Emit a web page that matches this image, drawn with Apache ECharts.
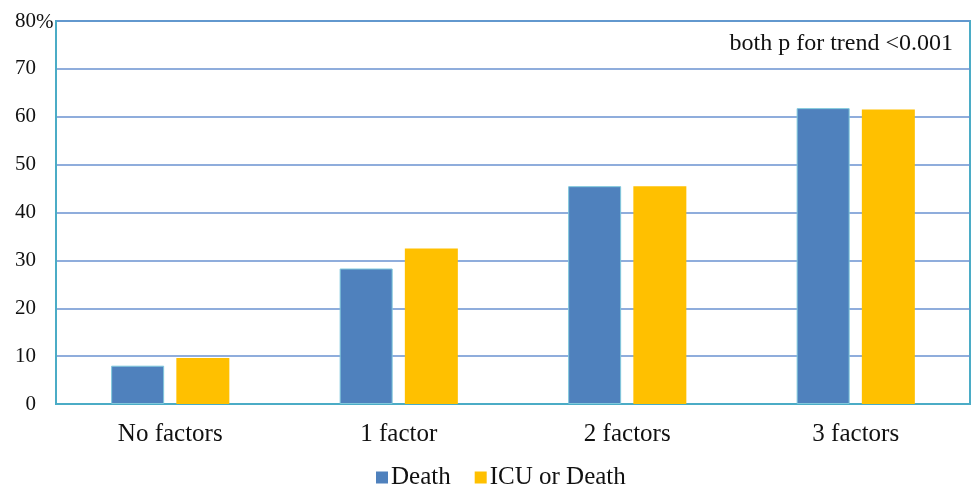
<!DOCTYPE html>
<html>
<head>
<meta charset="utf-8">
<script src="https://cdn.jsdelivr.net/npm/echarts@6/dist/echarts.min.js"></script>
<style>
  html, body { margin: 0; padding: 0; background: #fff; }
  #chart { width: 973px; height: 484px; }
</style>
</head>
<body>
<div id="chart"></div>
<script>
// data
const categories = ['No factors', '1 factor', '2 factors', '3 factors']
const death = [8.0, 28.3, 45.5, 61.8]
const icuOrDeath = [9.6, 32.5, 45.5, 61.5]
const yTicks = ['0', '10', '20', '30', '40', '50', '60', '70', '80']

const serif = '"Liberation Serif", "DejaVu Serif", serif'
const teal = '#4BACC6'

let myChart = echarts.init(document.getElementById('chart'))
const options = {
    animation: false,
    textStyle: { fontFamily: serif },
    grid: {
        left: 56,
        right: 3,
        top: 21,
        bottom: 80,
        containLabel: false,
        show: true,
        borderColor: teal,
        borderWidth: 2
    },
    legend: {
        data: ['Death', 'ICU or Death'],
        top: 460,
        left: 371,
        itemWidth: 12,
        itemHeight: 12,
        itemGap: 24,
        icon: 'rect',
        itemStyle: { borderWidth: 0 },
        textStyle: { fontFamily: serif, fontSize: 25, color: '#111', padding: [0, 0, 0, -2] }
    },
    graphic: [
        {
            type: 'text',
            right: 20,
            top: 32,
            style: {
                text: 'both p for trend <0.001',
                font: '24px ' + serif,
                fill: '#111'
            }
        },
        {
            // percent sign trailing the top tick, as in the original
            type: 'text',
            left: 36,
            top: 12,
            style: { text: '%', font: '21px ' + serif, fill: '#111' }
        }
    ],
    xAxis: {
        type: 'category',
        data: categories,
        axisLine: { lineStyle: { color: teal, width: 2 } },
        axisTick: { show: false },
        axisLabel: { fontSize: 25, color: '#111', margin: 18 }
    },
    yAxis: {
        type: 'value',
        min: 0,
        max: 80,
        interval: 10,
        axisLine: { show: true, lineStyle: { color: teal, width: 2 } },
        axisTick: { show: false },
        splitLine: { lineStyle: { color: '#6A92D0', width: 1.5 } },
        axisLabel: {
            fontSize: 21,
            color: '#111',
            margin: 20,
            formatter: (v) => yTicks[v / 10]
        }
    },
    series: [
        {
            name: 'Death',
            type: 'bar',
            data: death,
            barWidth: 53,
            barGap: '23%',
            itemStyle: { color: '#4F81BD', borderColor: '#7FC8DC', borderWidth: 1 }
        },
        {
            name: 'ICU or Death',
            type: 'bar',
            data: icuOrDeath,
            barWidth: 53,
            itemStyle: { color: '#FFC000' }
        }
    ]
}
myChart.setOption(options)
</script>
</body>
</html>
